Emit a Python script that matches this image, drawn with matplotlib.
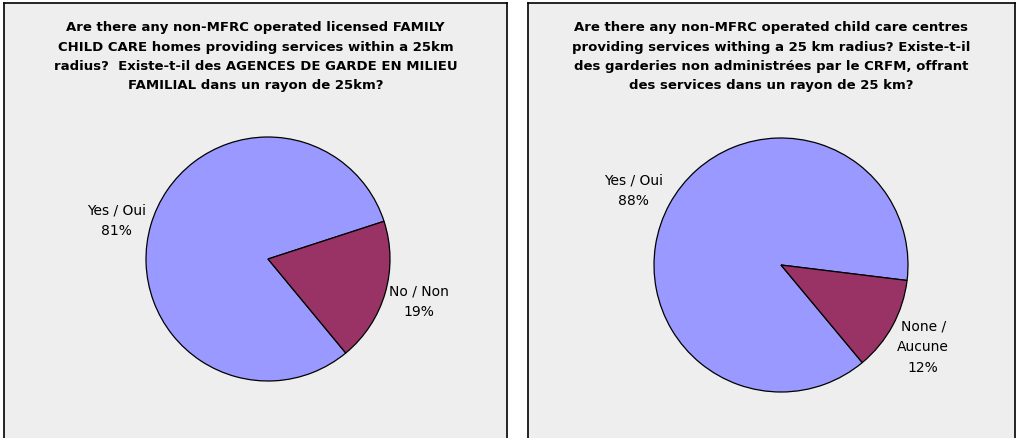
import matplotlib.pyplot as plt

# Data
titles = ["Are there any non-MFRC operated licensed FAMILY\nCHILD CARE homes providing services within a 25km\n"
          "radius?  Existe-t-il des AGENCES DE GARDE EN MILIEU\nFAMILIAL dans un rayon de 25km?",
          "Are there any non-MFRC operated child care centres\nproviding services withing a 25 km radius? Existe-t-il\n"
          "des garderies non administr\u00e9es par le CRFM, offrant\ndes services dans un rayon de 25 km?"]
labels_1 = ["Yes / Oui", "No / Non"]
values_1 = [81, 19]
labels_2 = ["Yes / Oui", "None /\nAucune"]
values_2 = [88, 12]

colors = ["#9999FF", "#993366"]
W, H = 1020, 439

fig = plt.figure(figsize=(W / 100, H / 100), dpi=100, facecolor='w')

def panel(x0, x1, title, labels, values, cx, cy, r, start, lab_pos):
    bg = fig.add_axes([x0 / W, -0.02, (x1 - x0) / W, (H - 4) / H + 0.02])
    bg.set_facecolor('#EEEEEE')
    bg.set_xticks([]); bg.set_yticks([])
    for s in bg.spines.values():
        s.set_linewidth(1.2)
    fig.text((x0 + x1) / 2 / W, 1 - 21 / H, title, ha='center', va='top',
             fontsize=9.5, fontweight='bold', linespacing=1.65)
    ax = fig.add_axes([(cx - r) / W, (H - cy - r) / H, 2 * r / W, 2 * r / H])
    ax.pie(values, colors=colors, startangle=start, counterclock=True,
           wedgeprops=dict(edgecolor='black', linewidth=0.9))
    ax.set_xlim(-1, 1); ax.set_ylim(-1, 1)
    total = sum(values)
    for lab, v, (lx, ly) in zip(labels, values, lab_pos):
        ax.text(lx, ly, f"{lab}\n{round(100 * v / total)}%", ha='center', va='center',
                fontsize=10, linespacing=1.6, clip_on=False)

panel(4, 507, titles[0], labels_1, values_1, 268, 260, 122, 18,
      [(-1.24, 0.32), (1.24, -0.34)])
panel(528, 1015, titles[1], labels_2, values_2, 781, 266, 127, -7,
      [(-1.16, 0.59), (1.12, -0.64)])

fig.savefig('out.png', dpi=100, facecolor='w')
